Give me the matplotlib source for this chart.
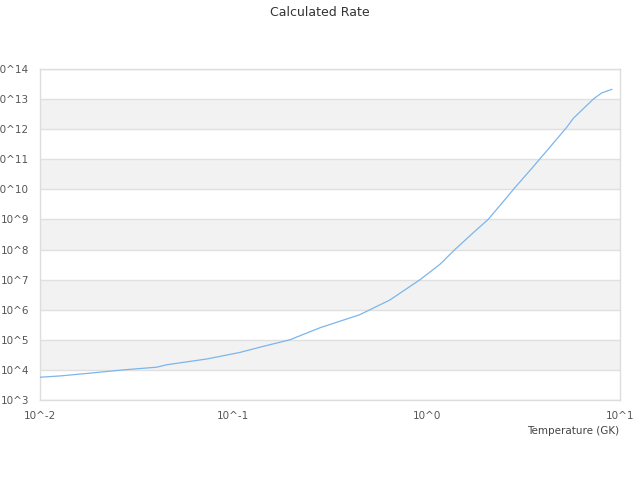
import math
import matplotlib.pyplot as plt
from matplotlib.ticker import FixedLocator, FuncFormatter

# temperature (GK) and calculated rate
temperature = [0.01, 0.0127, 0.0182, 0.0269, 0.0402, 0.0452, 0.0728, 0.108, 0.142, 0.196,
               0.28, 0.45, 0.645, 0.925, 1.17, 1.40, 1.74, 2.08, 2.59, 2.81,
               3.49, 3.86, 4.18, 4.71, 5.3, 5.74, 7.28, 8.04, 9.06]
rate = [5.7e3, 6.3e3, 7.8e3, 1.0e4, 1.23e4, 1.48e4, 2.3e4, 3.8e4, 6.0e4, 1.0e5,
        2.5e5, 6.8e5, 2.1e6, 1.0e7, 3.2e7, 1.0e8, 3.6e8, 1.0e9, 5.3e9, 1.0e10,
        4.9e10, 1.05e11, 1.9e11, 4.7e11, 1.15e12, 2.3e12, 1.0e13, 1.6e13, 2.1e13]

x_decades = [-2, -1, 0, 1]
y_decades = list(range(3, 15))

plt.rcParams['font.family'] = 'DejaVu Sans'

fig = plt.figure(figsize=(6.4, 4.8), dpi=100)
ax = fig.add_axes([0.0625, 0.1667, 0.90625, 0.6896])

# alternating bands
for d in y_decades[:-1]:
    if d % 2 == 0:
        ax.axhspan(10.0 ** d, 10.0 ** (d + 1), color='#f2f2f2', lw=0, zorder=0)
for d in y_decades:
    ax.axhline(10.0 ** d, color='#e0e0e0', lw=1, zorder=1)

ax.plot(temperature, rate, color='#7cb5ec', lw=0.9, zorder=3)

ax.set_xscale('log')
ax.set_yscale('log')
ax.set_xlim(1e-2, 1e1)
ax.set_ylim(1e3, 1e14)

ax.xaxis.set_major_locator(FixedLocator([10.0 ** d for d in x_decades]))
ax.yaxis.set_major_locator(FixedLocator([10.0 ** d for d in y_decades]))
ax.xaxis.set_minor_locator(FixedLocator([]))
ax.yaxis.set_minor_locator(FixedLocator([]))
fmt = FuncFormatter(lambda v, p: '10^%d' % round(math.log10(v)))
ax.xaxis.set_major_formatter(fmt)
ax.yaxis.set_major_formatter(fmt)
ax.tick_params(length=0, labelsize=7.5, labelcolor='#555555')
ax.tick_params(axis='x', pad=8)
ax.tick_params(axis='y', pad=8)

for s in ax.spines.values():
    s.set_color('#dddddd')
    s.set_linewidth(1)

fig.text(0.5, 0.975, 'Calculated Rate', ha='center', va='center', fontsize=9, color='#333333')
fig.text(0.967, 0.102, 'Temperature (GK)', ha='right', va='center', fontsize=7.5, color='#444444')

fig.savefig('out.png')
